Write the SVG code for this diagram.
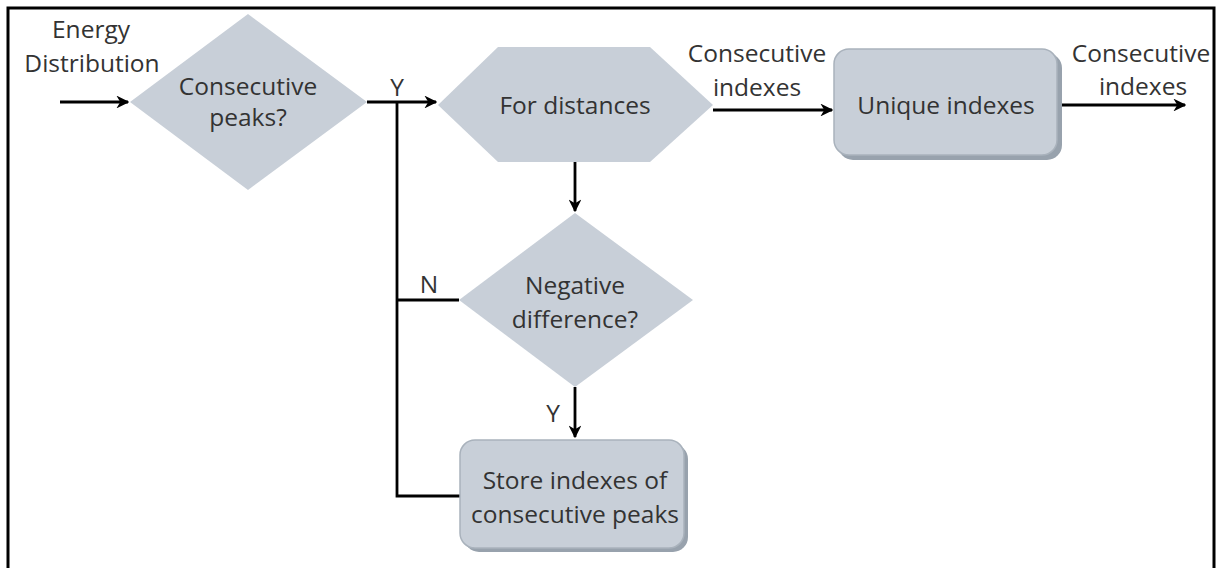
<svg xmlns="http://www.w3.org/2000/svg" width="1220" height="568" viewBox="0 0 1220 568">
  <defs>
    <marker id="arrow" viewBox="0 0 10 10" refX="9" refY="5" markerWidth="4.6" markerHeight="4.6" orient="auto" markerUnits="strokeWidth">
      <path d="M0,0 L10,5 L0,10 L3,5 z" fill="#000"/>
    </marker>
  </defs>
  <style>
    text { font-family: "Open Sans", "Noto Sans", "DejaVu Sans", sans-serif; font-size: 24.5px; fill: #333; text-anchor: middle; }
    .shape { fill: #c8cfd8; }
    .box { fill: #c8cfd8; stroke: #a9b2bc; stroke-width: 1.5; }
    .shadow { fill: #98a2ad; }
    .line { fill: none; stroke: #000; stroke-width: 2.8; }
    .arr { fill: none; stroke: #000; stroke-width: 2.8; marker-end: url(#arrow); }
    .frame { fill: none; stroke: #000; stroke-width: 3; }
  </style>

  <rect width="1220" height="568" fill="#fff"/>
  <path class="frame" d="M8,570 V8 H1214 V570"/>

  <!-- connectors -->
  <g id="connectors">
    <path class="arr" d="M60,102 H128"/>
    <path class="arr" d="M367,102 H436"/>
    <path class="line" d="M397,102 V496 H460"/>
    <path class="line" d="M397,300 H459"/>
    <path class="arr" d="M713,110 H832"/>
    <path class="arr" d="M1062,105 H1185"/>
    <path class="arr" d="M575,162 V211"/>
    <path class="arr" d="M575,387 V437"/>
    <text x="91" y="38">Energy</text>
    <text x="92" y="72">Distribution</text>
    <text x="397" y="96">Y</text>
    <text x="757" y="62">Consecutive</text>
    <text x="757" y="96">indexes</text>
    <text x="1141" y="62">Consecutive</text>
    <text x="1143" y="95">indexes</text>
    <text x="429" y="293">N</text>
    <text x="553" y="422">Y</text>
  </g>

  <!-- decision: consecutive peaks -->
  <g id="consecutive-peaks">
    <polygon class="shape" points="248,14 367,102 248,190 130,102"/>
    <text x="248" y="95">Consecutive</text>
    <text x="248" y="126">peaks?</text>
  </g>

  <!-- loop: for distances -->
  <g id="for-distances">
    <polygon class="shape" points="438,105 498,47 650,47 713,105 650,162 498,162"/>
    <text x="575" y="114">For distances</text>
  </g>

  <!-- process: unique indexes -->
  <g id="unique-indexes">
    <rect class="shadow" x="838" y="53" width="224" height="107" rx="15"/>
    <rect class="box" x="834" y="49" width="223" height="106" rx="15"/>
    <text x="946" y="114">Unique indexes</text>
  </g>

  <!-- decision: negative difference -->
  <g id="negative-difference">
    <polygon class="shape" points="575,213 693,300 575,387 459,300"/>
    <text x="575" y="294">Negative</text>
    <text x="575" y="328">difference?</text>
  </g>

  <!-- process: store indexes -->
  <g id="store-indexes">
    <rect class="shadow" x="464" y="444" width="224" height="108" rx="15"/>
    <rect class="box" x="460" y="440" width="224" height="108" rx="15"/>
    <text x="575" y="489">Store indexes of</text>
    <text x="575" y="523">consecutive peaks</text>
  </g>
</svg>
